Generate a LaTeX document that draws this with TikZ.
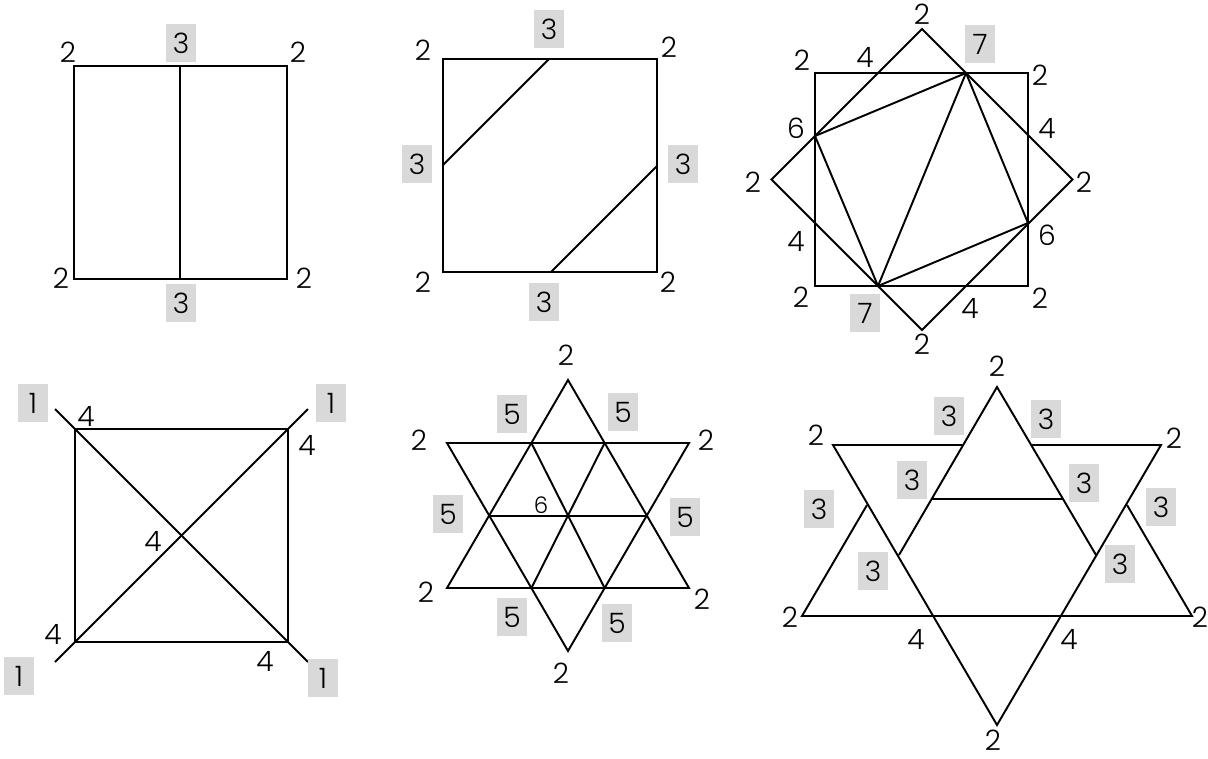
\documentclass[tikz,border=0pt]{standalone}
\usepackage{fontspec}
\setmainfont{Poppins Light}
\usepackage{xcolor}
\definecolor{boxgray}{RGB}{217,217,217}

\begin{document}
\begin{tikzpicture}[
  x=0.02cm, y=-0.02cm,
  font=\fontsize{16}{18}\selectfont,
  edge/.style={line width=1.1pt, line join=miter},
  num/.style={inner sep=0pt},
  tag/.style={fill=boxgray, minimum width=0.6cm, minimum height=0.76cm, inner sep=0pt},
  small/.style={inner sep=0pt, font=\fontsize{13}{15}\selectfont}
]
\useasboundingbox (0,0) rectangle (1208,758);

% square split in two
\coordinate (sqA1) at (74,66);
\coordinate (sqA2) at (287,66);
\coordinate (sqA3) at (287,279);
\coordinate (sqA4) at (74,279);
\coordinate (midA1) at (180,66);
\coordinate (midA2) at (180,279);
\draw[edge] (sqA1) -- (sqA2) -- (sqA3) -- (sqA4) -- cycle;
\draw[edge] (midA1) -- (midA2);
\node[num] (a1) at (68,52) {2};
\node[num] (a2) at (298,52) {2};
\node[num] (a3) at (61,278) {2};
\node[num] (a4) at (304,278) {2};
\node[tag] (a5) at (181,43) {3};
\node[tag] (a6) at (181,303) {3};

% square with two cuts
\coordinate (sqB1) at (443,59);
\coordinate (sqB2) at (657,59);
\coordinate (sqB3) at (657,272);
\coordinate (sqB4) at (443,272);
\coordinate (cutB1) at (549,59);
\coordinate (cutB2) at (443,165);
\coordinate (cutB3) at (657,166);
\coordinate (cutB4) at (551,272);
\draw[edge] (sqB1) -- (sqB2) -- (sqB3) -- (sqB4) -- cycle;
\draw[edge] (cutB1) -- (cutB2);
\draw[edge] (cutB3) -- (cutB4);
\node[num] (b1) at (423,50) {2};
\node[num] (b2) at (669,47) {2};
\node[num] (b3) at (423,282) {2};
\node[num] (b4) at (668,282) {2};
\node[tag] (b5) at (549,29) {3};
\node[tag] (b6) at (417,164) {3};
\node[tag] (b7) at (683,164) {3};
\node[tag] (b8) at (544,302) {3};

% square and diamond
\coordinate (sqC1) at (815,73);
\coordinate (sqC2) at (1028,73);
\coordinate (sqC3) at (1028,286);
\coordinate (sqC4) at (815,286);
\coordinate (dmC1) at (922,29);
\coordinate (dmC2) at (1072.5,179.5);
\coordinate (dmC3) at (922,330);
\coordinate (dmC4) at (771.5,179.5);
\coordinate (pC1) at (966,73);
\coordinate (pC2) at (815,136);
\coordinate (pC3) at (878,286);
\coordinate (pC4) at (1028,223);
\draw[edge] (sqC1) -- (sqC2) -- (sqC3) -- (sqC4) -- cycle;
\draw[edge] (dmC1) -- (dmC2) -- (dmC3) -- (dmC4) -- cycle;
\draw[edge] (pC1) -- (pC2) -- (pC3) -- (pC4) -- cycle;
\draw[edge] (pC1) -- (pC3);
\node[num] (c1) at (922,14) {2};
\node[tag] (c2) at (980,44) {7};
\node[num] (c3) at (802,60) {2};
\node[num] (c4) at (865,57) {4};
\node[num] (c5) at (1040,75) {2};
\node[num] (c6) at (796,128) {6};
\node[num] (c7) at (1047,128) {4};
\node[num] (c8) at (753,182) {2};
\node[num] (c9) at (1084,182) {2};
\node[num] (c10) at (796,241) {4};
\node[num] (c11) at (1047,235) {6};
\node[num] (c12) at (801,297) {2};
\node[tag] (c13) at (865,313) {7};
\node[num] (c14) at (1040,298) {2};
\node[num] (c15) at (970,308) {4};
\node[num] (c16) at (922,344) {2};

% square with crossed diagonals
\coordinate (sqD1) at (75,429);
\coordinate (sqD2) at (288,429);
\coordinate (sqD3) at (288,642);
\coordinate (sqD4) at (75,642);
\coordinate (exD1) at (55,409);
\coordinate (exD2) at (308,409);
\coordinate (exD3) at (308,662);
\coordinate (exD4) at (55,662);
\draw[edge] (sqD1) -- (sqD2) -- (sqD3) -- (sqD4) -- cycle;
\draw[edge] (exD1) -- (exD3);
\draw[edge] (exD2) -- (exD4);
\node[num] (d1) at (86,416) {4};
\node[num] (d2) at (307,445) {4};
\node[num] (d3) at (153,541) {4};
\node[num] (d4) at (53,634) {4};
\node[num] (d5) at (265,661) {4};
\node[tag] (d6) at (33,403) {1};
\node[tag] (d7) at (331,403) {1};
\node[tag] (d8) at (19,676) {1};
\node[tag] (d9) at (323,678) {1};

% star with triangle grid
\coordinate (upE) at (568,380);
\coordinate (upE1) at (447,588);
\coordinate (upE2) at (689,588);
\coordinate (dnE) at (568,651);
\coordinate (dnE1) at (447,443);
\coordinate (dnE2) at (689,443);
\coordinate (hxE1) at (531.4,443);
\coordinate (hxE2) at (604.6,443);
\coordinate (hxE3) at (647,516);
\coordinate (hxE4) at (604.6,588);
\coordinate (hxE5) at (531.4,588);
\coordinate (hxE6) at (489,516);
\draw[edge] (upE) -- (upE1) -- (upE2) -- cycle;
\draw[edge] (dnE) -- (dnE1) -- (dnE2) -- cycle;
\draw[edge] (hxE6) -- (hxE3);
\draw[edge] (hxE1) -- (hxE4);
\draw[edge] (hxE2) -- (hxE5);
\node[num] (e1) at (566,355) {2};
\node[num] (e2) at (419,440) {2};
\node[num] (e3) at (706,440) {2};
\node[num] (e4) at (426,592) {2};
\node[num] (e5) at (702,599) {2};
\node[num] (e6) at (561,673) {2};
\node[tag] (e7) at (512,414) {5};
\node[tag] (e8) at (623,412) {5};
\node[tag] (e9) at (448,514) {5};
\node[tag] (e10) at (685,517) {5};
\node[tag] (e11) at (512,617) {5};
\node[tag] (e12) at (617,623) {5};
\node[small] (e13) at (541,505) {6};

% star cut into pieces
\coordinate (apF) at (997,387);
\coordinate (apF1) at (899,555);
\coordinate (apF2) at (1096,555);
\coordinate (ltF1) at (867,505);
\coordinate (ltF2) at (802,616);
\coordinate (rtF1) at (1127,505);
\coordinate (rtF2) at (1192,616);
\coordinate (dnF) at (997,725);
\coordinate (dnF1) at (833,445);
\coordinate (dnF2) at (1161,445);
\coordinate (gpF1) at (962.3,445);
\coordinate (gpF2) at (1031.7,445);
\coordinate (inF1) at (931.5,499);
\coordinate (inF2) at (1062.5,499);
\draw[edge] (apF1) -- (apF) -- (apF2);
\draw[edge] (ltF1) -- (ltF2) -- (rtF2) -- (rtF1);
\draw[edge] (gpF1) -- (dnF1) -- (dnF) -- (dnF2) -- (gpF2);
\draw[edge] (inF1) -- (inF2);
\node[num] (f1) at (997,366) {2};
\node[num] (f2) at (816,435) {2};
\node[num] (f3) at (1174,438) {2};
\node[num] (f4) at (790,617) {2};
\node[num] (f5) at (1200,617) {2};
\node[num] (f6) at (916,639) {4};
\node[num] (f7) at (1069,639) {4};
\node[num] (f8) at (993,740) {2};
\node[tag] (f9) at (949,416) {3};
\node[tag] (f10) at (1046,419) {3};
\node[tag] (f11) at (912,480) {3};
\node[tag] (f12) at (1084,483) {3};
\node[tag] (f13) at (819,509) {3};
\node[tag] (f14) at (1161,507) {3};
\node[tag] (f15) at (873,571) {3};
\node[tag] (f16) at (1120,564) {3};

\end{tikzpicture}
\end{document}
